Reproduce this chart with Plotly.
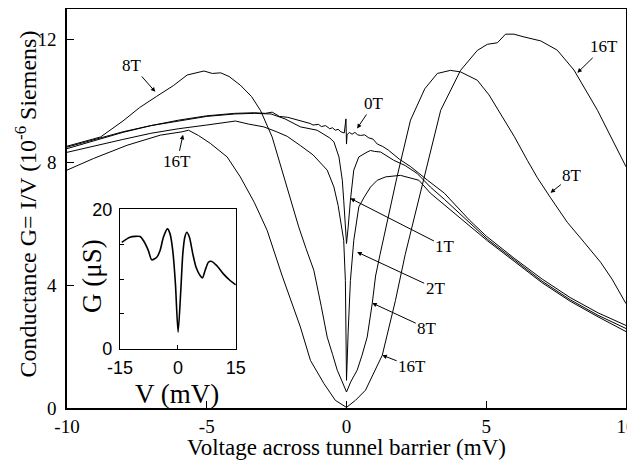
import plotly.graph_objects as go

# ---------------- data ----------------
v_0T = [-10, -9, -8, -7, -6, -5, -4, -3.3, -2.9, -2.66, -2.4, -2.1, -1.9, -1.7, -1.5, -1.3, -1.2,
        -1.0, -0.9, -0.75, -0.6, -0.5, -0.4, -0.3, -0.2, -0.08, -0.02, 0, 0.02, 0.1, 0.2, 0.3,
        0.4, 0.5, 0.65, 0.8, 0.95, 1.1, 1.3, 1.5, 1.9, 2.3, 2.9, 3.5, 4.4, 5.0, 6.0, 7.0, 8.0,
        9.0, 10]
g_0T = [8.45, 8.72, 8.98, 9.2, 9.38, 9.52, 9.6, 9.62, 9.6, 9.64, 9.5, 9.47, 9.42, 9.36, 9.33,
        9.27, 9.22, 9.24, 9.17, 9.2, 9.1, 9.13, 9.05, 9.08, 9.0, 8.96, 9.42, 8.6, 8.9, 8.98, 8.92,
        8.98, 8.9, 8.88, 8.9, 8.8, 8.76, 8.6, 8.52, 8.4, 8.1, 7.86, 7.42, 7.0, 6.12, 5.6, 4.88,
        4.2, 3.6, 3.1, 2.69]

v_1T = [-10, -9, -8, -7, -6, -5, -4, -3.3, -2.7, -2.2, -1.65, -1.05, -0.6, -0.45, -0.27, -0.15,
        -0.1, -0.04, 0, 0.06, 0.14, 0.26, 0.44, 0.74, 0.86, 1.0, 1.22, 1.69, 2.1, 2.53, 3.0, 3.5,
        4.08, 5.04, 6.0, 7.0, 8.0, 9.0, 10]
g_1T = [8.5, 8.76, 9.0, 9.2, 9.36, 9.5, 9.58, 9.6, 9.58, 9.42, 9.16, 9.05, 8.8, 8.67, 8.18, 7.42,
        6.77, 5.8, 5.36, 5.9, 6.77, 7.75, 8.18, 8.34, 8.39, 8.36, 8.34, 8.07, 7.9, 7.64, 7.2, 6.8,
        6.3, 5.5, 4.83, 4.13, 3.53, 3.02, 2.59]

v_2T = [-10, -9, -8, -7, -6, -5, -4.3, -3.97, -3.5, -2.96, -2.5, -2.12, -1.65, -1.2, -0.69, -0.45,
        -0.3, -0.1, -0.04, 0, 0.06, 0.14, 0.26, 0.44, 0.62, 0.86, 1.1, 1.4, 1.93, 2.3, 2.59, 3.0,
        3.6, 4.32, 5.04, 6.0, 7.0, 8.0, 9.0, 10]
g_2T = [8.33, 8.55, 8.75, 8.95, 9.1, 9.22, 9.3, 9.35, 9.25, 9.16, 9.0, 8.85, 8.55, 8.25, 7.75, 7.2,
        6.6, 5.46, 4.15, 0.9, 2.5, 4.15, 5.46, 6.55, 6.85, 7.2, 7.42, 7.53, 7.58, 7.5, 7.42, 7.0,
        6.55, 6.0, 5.45, 4.78, 4.08, 3.48, 2.97, 2.49]

v_8T = [-10, -9.4, -8.8, -8, -7.4, -6.8, -6.2, -5.7, -5.4, -5.1, -4.8, -4.5, -4.2, -3.8, -3.4,
        -3.08, -2.66, -2.24, -2.0, -1.71, -1.45, -1.17, -0.9, -0.69, -0.5, -0.33, -0.15, 0, 0.15,
        0.38, 0.55, 0.74, 0.92, 1.04, 1.2, 1.46, 1.8, 2.29, 2.8, 3.25, 3.72, 4.08, 4.68, 5.1, 5.51,
        6.0, 6.47, 6.83, 7.3, 7.9, 8.5, 9.09, 9.5, 10]
g_8T = [8.53, 8.68, 8.83, 9.35, 9.79, 10.15, 10.5, 10.85, 10.92, 10.98, 10.9, 10.92, 10.8, 10.52,
        10.15, 9.7, 8.83, 7.53, 6.77, 5.9, 5.2, 4.49, 3.3, 2.31, 1.75, 1.23, 0.85, 0.52, 0.85, 1.23,
        1.7, 2.31, 3.4, 4.3, 5.0, 6.12, 7.5, 9.38, 10.4, 10.9, 11.0, 10.95, 10.68, 10.2, 9.6, 8.85,
        8.07, 7.5, 6.85, 6.05, 5.4, 4.75, 4.2, 3.4]

v_16T = [-10, -9.05, -7.85, -6.66, -5.88, -5.65, -5.3, -4.87, -4.27, -3.8, -3.3, -2.84, -2.3,
         -1.65, -1.29, -0.81, -0.4, 0, 0.32, 0.68, 1.28, 1.75, 2.1, 2.45, 2.89, 3.37, 4.08, 4.68,
         5.04, 5.4, 5.69, 5.99, 6.35, 6.95, 7.54, 8.14, 8.98, 9.57, 10]
g_16T = [7.75, 8.13, 8.56, 8.89, 9.0, 9.05, 8.88, 8.62, 8.18, 7.53, 6.7, 5.79, 4.3, 2.64, 1.55,
         0.8, 0.25, 0.02, 0.25, 0.58, 1.72, 3.5, 5.0, 6.3, 8.0, 9.7, 11.0, 11.65, 11.85, 11.9,
         12.18, 12.18, 12.09, 11.96, 11.66, 11.01, 9.7, 8.62, 7.86]

# inset: G (uS) vs V (mV)
v_inset = [-14.56, -12.41, -9.81, -8.95, -7.66, -6.79, -5.49, -4.63, -3.77, -2.73, -2.04, -1.34,
           -0.65, 0.04, 0.74, 1.26, 1.78, 2.29, 2.98, 3.85, 4.70, 5.74, 6.34, 7.04, 7.89, 8.59,
           10.07, 11.78, 13.52, 15.0]
g_inset = [15.27, 15.99, 16.09, 15.52, 14.08, 12.75, 13.12, 14.08, 15.99, 17.19, 16.48, 14.08,
           9.31, 2.38, 8.35, 13.61, 15.99, 16.71, 15.99, 13.61, 11.69, 10.50, 10.17, 11.22, 12.41,
           12.55, 11.93, 10.74, 9.79, 9.17]

x_ticks = [-10, -5, 0, 5, 10]
x_tick_text = ["-10", "-5", "0", "5", "10"]
y_ticks = [0, 4, 8, 12]
inset_x_ticks = [-15, 0, 15]
inset_x_text = ["-15", "0", "15"]
inset_y_ticks = [0, 20]
inset_y_minor = [5, 10, 15]

# labels: (text, tip V, tip G, label V, label G)
labels = [
    ("8T", -6.84, 10.3, -7.67, 11.16),
    ("16T", -5.85, 8.9, -6.06, 8.02),
    ("0T", 0.38, 9.11, 0.98, 9.92),
    ("16T", 8.26, 10.92, 9.21, 11.77),
    ("8T", 7.3, 7.01, 8.08, 7.58),
    ("1T", 0.14, 6.83, 3.54, 5.25),
    ("2T", 0.38, 5.08, 3.19, 3.89),
    ("8T", 0.92, 3.42, 2.89, 2.59),
    ("16T", 1.28, 1.72, 2.35, 1.34),
]

SERIF = "Liberation Serif"
SANS = "Liberation Sans"

fig = go.Figure()
for v, g in [(v_0T, g_0T), (v_1T, g_1T), (v_2T, g_2T), (v_8T, g_8T), (v_16T, g_16T)]:
    fig.add_trace(go.Scatter(x=v, y=g, mode="lines", line=dict(color="black", width=1),
                             showlegend=False, hoverinfo="skip"))

fig.add_trace(go.Scatter(x=v_inset, y=g_inset, mode="lines", xaxis="x2", yaxis="y2",
                         line=dict(color="black", width=1.6, shape="spline", smoothing=0.7),
                         showlegend=False, hoverinfo="skip"))

for text, tx, ty, lx, ly in labels:
    fig.add_annotation(x=tx, y=ty, ax=lx, ay=ly, xref="x", yref="y", axref="x", ayref="y",
                       text=text, showarrow=True, arrowhead=2, arrowsize=0.9, arrowwidth=1,
                       arrowcolor="black", font=dict(family=SERIF, size=17, color="black"))

# axis titles
fig.add_annotation(xref="paper", yref="paper", x=0.5, y=-0.098, text="Voltage across tunnel barrier (mV)",
                   showarrow=False, xanchor="center", yanchor="middle",
                   font=dict(family=SERIF, size=23, color="black"))
fig.add_annotation(xref="paper", yref="paper", x=-0.075, y=0.51,
                   text="Conductance G= I/V (10<sup>-6</sup> Siemens)", textangle=-90,
                   showarrow=False, xanchor="center", yanchor="middle",
                   font=dict(family=SERIF, size=24, color="black"))
# inset titles
fig.add_annotation(xref="paper", yref="paper", x=0.196, y=0.034, text="V (mV)", showarrow=False,
                   xanchor="center", yanchor="middle", font=dict(family=SERIF, size=27, color="black"))
fig.add_annotation(xref="paper", yref="paper", x=0.046, y=0.33, text="G (μS)", textangle=-90,
                   showarrow=False, xanchor="center", yanchor="middle",
                   font=dict(family=SERIF, size=27, color="black"))

axis_common = dict(showline=True, linecolor="black", mirror=True, ticks="inside",
                   tickcolor="black", showgrid=False, zeroline=False, automargin=False)

# the page body has an 8px margin, so the figure is 8px smaller than the window
fig.update_layout(
    width=627, height=454,
    margin=dict(l=59, r=9, t=1, b=54, autoexpand=False),
    paper_bgcolor="white", plot_bgcolor="white",
    xaxis=dict(range=[-10, 10], tickvals=x_ticks, ticktext=x_tick_text, ticklen=7, linewidth=1.5,
               tickfont=dict(family=SERIF, size=19, color="black"), ticklabelstandoff=0,
               ticklabeloverflow="allow", **axis_common),
    yaxis=dict(range=[0, 13.0], tickvals=y_ticks, ticklen=7, linewidth=1.5,
               tickfont=dict(family=SERIF, size=19, color="black"), ticklabelstandoff=5,
               **axis_common),
    xaxis2=dict(domain=[0.0949, 0.302], anchor="y2", range=[-15, 15], tickvals=inset_x_ticks,
                ticktext=inset_x_text, ticklen=4, linewidth=1.2, ticklabelstandoff=3,
                tickfont=dict(family=SANS, size=18, color="black"), **axis_common),
    yaxis2=dict(domain=[0.1486, 0.4979], anchor="x2", range=[0, 20], tickvals=inset_y_ticks,
                ticklen=4, linewidth=1.2, ticklabelstandoff=3,
                minor=dict(tickvals=inset_y_minor, ticks="inside", ticklen=4, tickcolor="black",
                           showgrid=False),
                tickfont=dict(family=SANS, size=18, color="black"), **axis_common),
)

fig.write_html("out.html")
